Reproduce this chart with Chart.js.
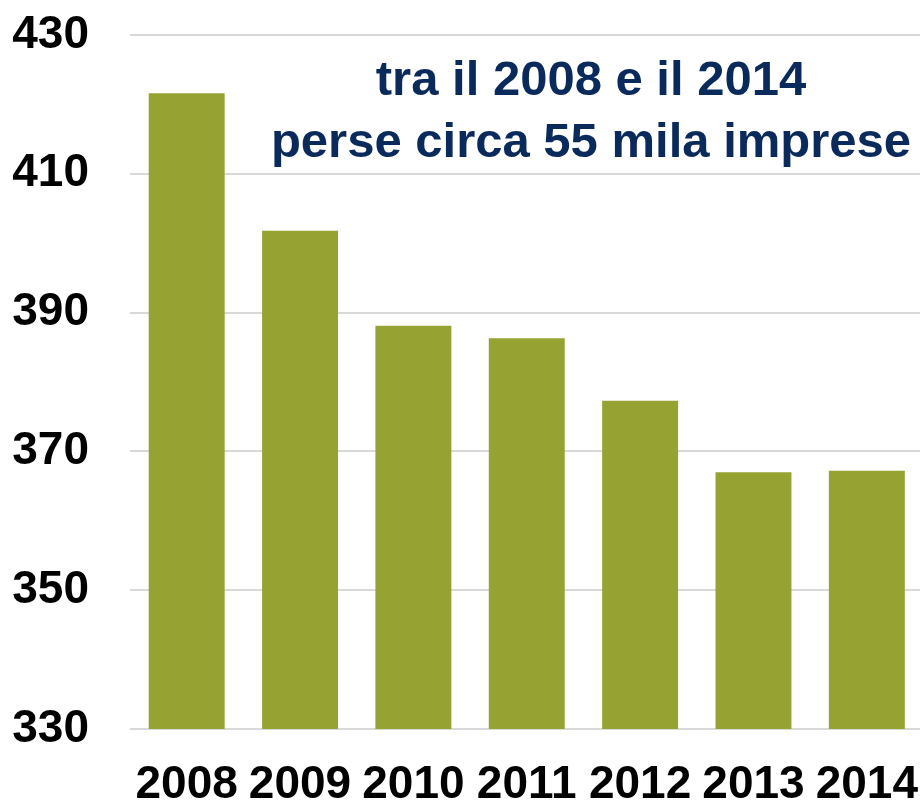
<!DOCTYPE html>
<html>
<head>
<meta charset="utf-8">
<script src="https://cdn.jsdelivr.net/npm/chart.js@4"></script>
<style>
  html, body { margin: 0; padding: 0; background: #fff; overflow: hidden; }
  #wrap { width: 947px; height: 801px; }
</style>
</head>
<body>
<div id="wrap"><canvas id="chart" width="947" height="801"></canvas></div>
<script>
const years = ['2008', '2009', '2010', '2011', '2012', '2013', '2014'];
const imprese = [421.6, 401.8, 388.1, 386.3, 377.3, 367.0, 367.2]; // migliaia
const yTicks = [330, 350, 370, 390, 410, 430];
const titleLines = ['tra il 2008 e il 2014', 'perse circa 55 mila imprese'];

const tickFont = { family: "'Liberation Sans', Arial, sans-serif", size: 46, weight: 'bold' };

// testo dentro l'area del grafico
const boxTitle = {
  id: 'boxTitle',
  afterDraw(chart) {
    const ctx = chart.ctx;
    ctx.save();
    ctx.fillStyle = '#0b2a5c';
    ctx.font = "bold 49px 'Liberation Sans', Arial, sans-serif";
    ctx.textAlign = 'center';
    ctx.textBaseline = 'alphabetic';
    ctx.fillText(titleLines[0], 591, 95);
    ctx.fillText(titleLines[1], 591, 157);
    ctx.restore();
  }
};

new Chart(document.getElementById('chart').getContext('2d'), {
  type: 'bar',
  data: {
    labels: years,
    datasets: [{
      data: imprese,
      backgroundColor: '#96a333',
      borderWidth: 0,
      barPercentage: 0.67,
      categoryPercentage: 1
    }]
  },
  options: {
    responsive: false,
    animation: false,
    layout: { padding: { top: 35, left: 0, right: 0, bottom: 0 } },
    plugins: { legend: { display: false }, tooltip: { enabled: false } },
    scales: {
      x: {
        grid: { display: false, drawTicks: false },
        border: { display: false },
        ticks: { color: '#000', font: tickFont, padding: 29, maxRotation: 0 },
        afterFit(scale) { scale.height = 72; }
      },
      y: {
        min: 330,
        max: 430,
        afterBuildTicks(scale) { scale.ticks = yTicks.map(v => ({ value: v })); },
        grid: { color: '#d9d9d9', lineWidth: 2, drawTicks: false },
        border: { display: false },
        ticks: { color: '#000', font: tickFont, padding: 41 },
        afterFit(scale) {
          scale.width = 130;
          scale.paddingTop = 0;
          scale.paddingBottom = 0;
        }
      }
    }
  },
  plugins: [boxTitle]
});
</script>
</body>
</html>
